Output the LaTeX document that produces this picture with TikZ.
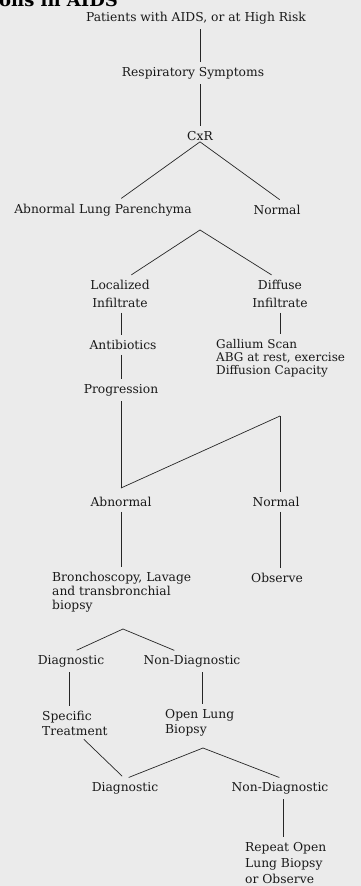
\documentclass[tikz,border=0pt]{standalone}
\usepackage{fontspec}
\setmainfont{DejaVu Serif}
\usetikzlibrary{calc}
\tikzset{
  lbl/.style={inner sep=1pt,align=center,text=black!90,font=\fontsize{12.3}{14}\selectfont},
  lblL/.style={lbl,align=left},
  hdr/.style={inner sep=0pt,font=\fontsize{18}{22}\selectfont\bfseries},
  con/.style={line width=0.7pt,black!85,shorten <=4pt,shorten >=4pt},
}

\begin{document}
\begin{tikzpicture}[x=1pt,y=-1pt]
  \useasboundingbox[fill=black!8] (0,0) rectangle (361,886);
  \node[hdr,anchor=base west] (hdr) at (-1,6) {ons in AIDS};
  % top of the chart
  \node[lbl] (pat) at (196,18) {Patients with AIDS, or at High Risk};
  \node[lbl] (resp) at (193,73) {Respiratory Symptoms};
  \node[lbl] (cxr) at (200,136) {CxR};
  \node[lbl] (alp) at (103,210) {Abnormal Lung Parenchyma};
  \node[lbl] (nrm1) at (277,210) {Normal};
  \coordinate (split1) at (200,230);
  \node[lbl,font=\fontsize{12.3}{18}\selectfont] (loc) at (120,294) {Localized\\Infiltrate};
  \node[lbl,font=\fontsize{12.3}{18}\selectfont] (dif) at (280,294) {Diffuse\\Infiltrate};
  \node[lbl] (abx) at (123,345) {Antibiotics};
  \node[lblL,anchor=west,font=\fontsize{12}{13}\selectfont] (gal) at (215,358)
    {Gallium Scan\\ABG at rest, exercise\\Diffusion Capacity};
  \node[lbl] (prog) at (121,390) {Progression};
  \coordinate (vpt) at (121,488);
  \coordinate (tjoin) at (280,416);
  \node[lbl] (abn) at (121,502) {Abnormal};
  \node[lbl] (nrm2) at (276,502) {Normal};
  % work-up
  \node[lblL,anchor=west] (bronch) at (51,592) {Bronchoscopy, Lavage\\and transbronchial\\biopsy};
  \node[lbl] (obs) at (277,578) {Observe};
  \coordinate (split2) at (123,629);
  \node[lbl] (dx1) at (71,661) {Diagnostic};
  \node[lbl] (ndx1) at (192,661) {Non-Diagnostic};
  \node[lblL,anchor=west,font=\fontsize{12.3}{15}\selectfont] (spec) at (41,723) {Specific\\Treatment};
  \node[lblL,anchor=west,font=\fontsize{12.3}{15}\selectfont] (olb) at (164,723) {Open Lung\\Biopsy};
  \coordinate (split3) at (203,748);
  \node[lbl] (dx2) at (125,788) {Diagnostic};
  \node[lbl] (ndx2) at (280,788) {Non-Diagnostic};
  \node[lblL,anchor=west,font=\fontsize{12.3}{16}\selectfont] (rep) at (244,863) {Repeat Open\\Lung Biopsy\\or Observe};

  \draw[con] (pat.south -| cxr) -- (resp.north -| cxr);
  \draw[con] (resp.south -| cxr) -- (cxr.north);
  \draw[con,shorten <=0pt] (cxr.south) -- ([xshift=15pt,yshift=2pt]alp.north);
  \draw[con,shorten <=0pt] (cxr.south) -- ([xshift=6pt,yshift=2pt]nrm1.north);
  \draw[con,shorten <=0pt] (split1) -- ([xshift=8pt,yshift=2pt]loc.north);
  \draw[con,shorten <=0pt] (split1) -- ([xshift=-5pt,yshift=2pt]dif.north);
  \draw[con] (loc.south -| vpt) -- (abx.north -| vpt);
  \draw[con] (dif.south -| tjoin) -- (gal.north -| tjoin);
  \draw[con] (abx.south -| vpt) -- (prog.north -| vpt);
  \draw[con,shorten >=0pt] (prog.south -| vpt) -- (vpt);
  \draw[con,shorten <=0pt,shorten >=0pt] (vpt) -- (tjoin);
  \draw[con,shorten <=0pt] (tjoin) -- (nrm2.north -| tjoin);
  \draw[con] (abn.south) -- (abn.south |- bronch.north);
  \draw[con] (nrm2.south -| tjoin) -- (obs.north -| tjoin);
  \draw[con,shorten <=0pt] (split2) -- ([xshift=2pt,yshift=2pt]dx1.north);
  \draw[con,shorten <=0pt] (split2) -- ([xshift=-14pt,yshift=2pt]ndx1.north);
  \draw[con] (dx1.south -| 69,0) -- (spec.north -| 69,0);
  \draw[con] (ndx1.south -| 202,0) -- (olb.north -| 202,0);
  \draw[con] ([xshift=6pt]spec.south) -- ([yshift=2pt]dx2.north);
  \draw[con,shorten <=0pt] (split3) -- ([yshift=2pt]dx2.north);
  \draw[con,shorten <=0pt] (split3) -- ([xshift=3pt,yshift=2pt]ndx2.north);
  \draw[con] (ndx2.south -| 283,0) -- (rep.north -| 283,0);
\end{tikzpicture}
\end{document}
